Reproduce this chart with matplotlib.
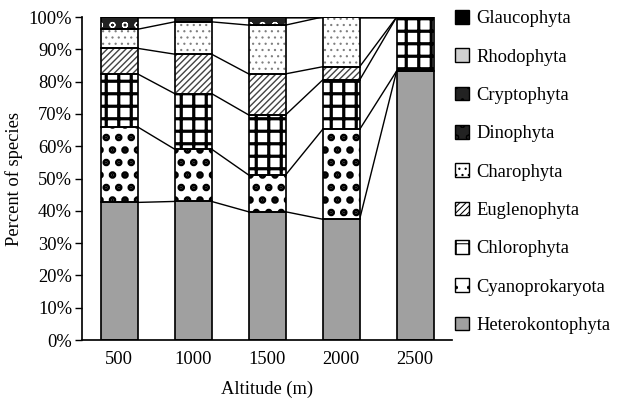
import matplotlib
matplotlib.use("Agg")
import matplotlib.pyplot as plt
from matplotlib.patches import Patch
import numpy as np

plt.rcParams['font.family'] = ['Liberation Serif', 'DejaVu Serif']

altitudes = ['500', '1000', '1500', '2000', '2500']

# percent of species per phylum at each altitude (bottom to top)
heterokontophyta = [42.6, 42.9, 39.7, 37.4, 83.3]
cyanoprokaryota = [23.4, 16.2, 11.4, 27.8, 0.0]
chlorophyta = [16.4, 17.2, 18.6, 15.3, 16.7]
euglenophyta = [7.9, 12.2, 12.7, 4.1, 0.0]
charophyta = [5.9, 10.0, 15.1, 15.4, 0.0]
dinophyta = [3.8, 1.5, 2.5, 0.0, 0.0]
cryptophyta = [0.0, 0.0, 0.0, 0.0, 0.0]
rhodophyta = [0.0, 0.0, 0.0, 0.0, 0.0]
glaucophyta = [0.0, 0.0, 0.0, 0.0, 0.0]

names = ['Heterokontophyta', 'Cyanoprokaryota', 'Chlorophyta', 'Euglenophyta',
         'Charophyta', 'Dinophyta', 'Cryptophyta', 'Rhodophyta', 'Glaucophyta']
series = [heterokontophyta, cyanoprokaryota, chlorophyta, euglenophyta,
          charophyta, dinophyta, cryptophyta, rhodophyta, glaucophyta]

# drawn at 75 dpi so the hatch tiles come out at the right size; sizes in px * K
K = 72 / 75

# face colour, hatch, hatch colour, hatch line width (px)
styles = [
    ('#a0a0a0', None, 'black', 1.0),
    ('white', '.', 'black', 5.0),
    ('white', '+', 'black', 3.2),
    ('white', '////', '#444444', 1.4),
    ('white', '..', '#808080', 1.0),
    ('#222222', 'o', 'white', 1.2),
    ('#222222', '.', 'white', 1.0),
    ('#d0d0d0', None, 'black', 1.0),
    ('black', None, 'black', 1.0),
]

fig = plt.figure(figsize=(617 / 75, 402 / 75), dpi=75)
ax = fig.add_axes([0.1329, 0.1542, 0.6, 0.8035])

fs = 18.5 * K

x = np.arange(len(altitudes))
w = 0.5
bottom = np.zeros(len(altitudes))
handles = []
levels = []
for name, vals, (fc, hatch, hc, hlw) in zip(names, series, styles):
    vals = np.array(vals)
    ax.bar(x, vals, w, bottom=bottom, color=fc, edgecolor='none', linewidth=0, zorder=2)
    if hatch:
        hb = ax.bar(x, vals, w, bottom=bottom, facecolor='none', edgecolor=hc,
                    linewidth=0, hatch=hatch, zorder=3)
        for p in hb:
            try:
                p.set_hatch_linewidth(hlw * K)
            except AttributeError:
                pass
    ax.bar(x, vals, w, bottom=bottom, facecolor='none', edgecolor='black',
           linewidth=1.7 * K, zorder=4)
    bottom = bottom + vals
    levels.append(bottom.copy())
    handles.append(Patch(facecolor=fc, edgecolor='black', hatch=hatch, linewidth=1.4 * K))

# lines joining the segment tops of neighbouring bars
for lev in levels:
    for i in range(len(altitudes) - 1):
        ax.plot([x[i] + w / 2, x[i + 1] - w / 2], [lev[i], lev[i + 1]],
                color='black', linewidth=1.4 * K, zorder=1)

ax.set_xlim(-0.5, 4.5)
ax.set_ylim(0, 100)
ax.set_xticks(x)
ax.set_xticklabels(altitudes)
ax.set_yticks(np.arange(0, 101, 10))
ax.set_yticklabels([f'{v}%' for v in range(0, 101, 10)])
ax.tick_params(axis='y', length=7 * K, width=1.4 * K, labelsize=fs, pad=3 * K)
ax.tick_params(axis='x', length=0, labelsize=fs, pad=11 * K)
for s in ['top', 'right']:
    ax.spines[s].set_visible(False)
ax.spines['left'].set_linewidth(1.7 * K)
ax.spines['bottom'].set_linewidth(1.7 * K)
ax.set_xlabel('Altitude (m)', fontsize=fs, labelpad=13 * K)
ax.set_ylabel('Percent of species', fontsize=fs, labelpad=5 * K)

fig.legend(handles[::-1], names[::-1], loc='upper left', bbox_to_anchor=(0.737, 0.975),
           frameon=False, fontsize=fs, handlelength=0.75, handleheight=0.75,
           handletextpad=0.4, labelspacing=1.14, borderpad=0, borderaxespad=0)

fig.savefig('out.png', dpi=75)
